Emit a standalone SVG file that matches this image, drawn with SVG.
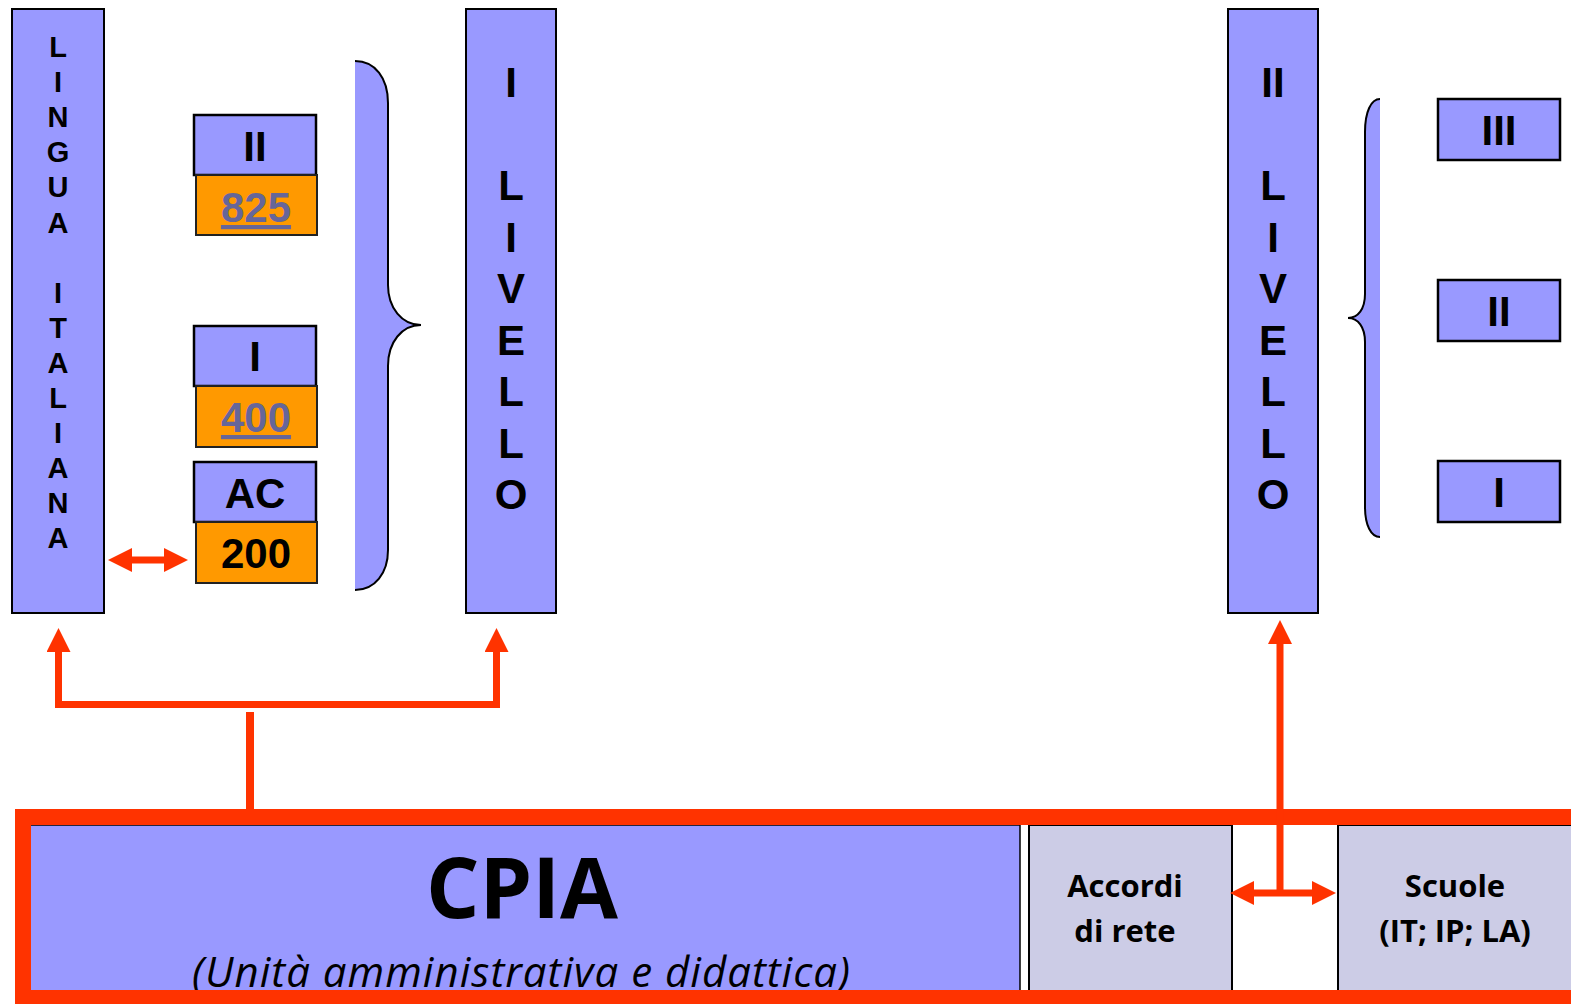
<svg xmlns="http://www.w3.org/2000/svg" width="1571" height="1004" viewBox="0 0 1571 1004">
  <style>
    .bar { fill: #9999FF; stroke: #000; stroke-width: 2; }
    .box { fill: #9999FF; stroke: #000; stroke-width: 2.5; }
    .hours { fill: #FF9900; stroke: #222; stroke-width: 2; }
    .cell { fill: #CCCCE6; stroke: #000; stroke-width: 2; }
    .lbl { font-family: "Liberation Sans", Arial, sans-serif; font-weight: bold; text-anchor: middle; fill: #000; }
    .big { font-size: 42px; }
    .small { font-size: 29px; }
    .link { fill: #666699; text-decoration: underline; }
    .cal { font-family: "Open Sans", "Noto Sans", sans-serif; text-anchor: middle; fill: #000; }
    .cellText { font-size: 31px; font-weight: bold; }
    .conn { stroke: #FF3300; fill: none; }
    .braceFill { fill: #9999FF; stroke: none; }
    .braceLine { fill: none; stroke: #000; stroke-width: 2; }
  </style>
  <defs>
    <marker id="head" viewBox="0 0 24 24" markerWidth="24" markerHeight="24" refX="0" refY="12" orient="auto-start-reverse" markerUnits="userSpaceOnUse">
      <path d="M0,0 L24,12 L0,24 Z" fill="#FF3300"/>
    </marker>
  </defs>

  <rect width="1571" height="1004" fill="#fff"/>

  <!-- Italian language column -->
  <g id="lingua-italiana">
    <rect class="bar" x="12" y="9" width="92" height="604"/>
    <text class="lbl small" x="58" y="57">
      <tspan x="58">L</tspan><tspan x="58" dy="35.1">I</tspan><tspan x="58" dy="35.1">N</tspan><tspan x="58" dy="35.1">G</tspan><tspan x="58" dy="35.1">U</tspan><tspan x="58" dy="35.1">A</tspan><tspan x="58" dy="70.2">I</tspan><tspan x="58" dy="35.1">T</tspan><tspan x="58" dy="35.1">A</tspan><tspan x="58" dy="35.1">L</tspan><tspan x="58" dy="35.1">I</tspan><tspan x="58" dy="35.1">A</tspan><tspan x="58" dy="35.1">N</tspan><tspan x="58" dy="35.1">A</tspan>
    </text>
  </g>

  <!-- First-level periods -->
  <g id="periodo-2">
    <rect class="box" x="194" y="115" width="122" height="60"/>
    <text class="lbl big" x="255" y="161">II</text>
  </g>
  <g id="ore-825">
    <rect class="hours" x="196" y="175" width="121" height="60"/>
    <text class="lbl big link" x="256" y="222">825</text>
  </g>
  <g id="periodo-1">
    <rect class="box" x="194" y="326" width="122" height="60"/>
    <text class="lbl big" x="255" y="371">I</text>
  </g>
  <g id="ore-400">
    <rect class="hours" x="196" y="386" width="121" height="61"/>
    <text class="lbl big link" x="256" y="432">400</text>
  </g>
  <g id="ac">
    <rect class="box" x="194" y="462" width="122" height="60"/>
    <text class="lbl big" x="255" y="508">AC</text>
  </g>
  <g id="ore-200">
    <rect class="hours" x="196" y="522" width="121" height="61"/>
    <text class="lbl big" x="256" y="568">200</text>
  </g>

  <!-- Brace grouping the first-level periods -->
  <g id="brace-1">
    <path class="braceFill" d="M355,61 C375,61 388,78 388,103 L388,285 C388,308 402,325 421,325 C402,325 388,342 388,366 L388,550 C388,573 375,590 355,590 Z"/>
    <path class="braceLine" d="M355,61 C375,61 388,78 388,103 L388,285 C388,308 402,325 421,325 C402,325 388,342 388,366 L388,550 C388,573 375,590 355,590"/>
  </g>

  <g id="primo-livello">
    <rect class="bar" x="466" y="9" width="90" height="604"/>
    <text class="lbl big" x="511" y="97">
      <tspan x="511">I</tspan><tspan x="511" dy="103">L</tspan><tspan x="511" dy="51.5">I</tspan><tspan x="511" dy="51.5">V</tspan><tspan x="511" dy="51.5">E</tspan><tspan x="511" dy="51.5">L</tspan><tspan x="511" dy="51.5">L</tspan><tspan x="511" dy="51.5">O</tspan>
    </text>
  </g>

  <g id="secondo-livello">
    <rect class="bar" x="1228" y="9" width="90" height="604"/>
    <text class="lbl big" x="1273" y="97">
      <tspan x="1273">II</tspan><tspan x="1273" dy="103">L</tspan><tspan x="1273" dy="51.5">I</tspan><tspan x="1273" dy="51.5">V</tspan><tspan x="1273" dy="51.5">E</tspan><tspan x="1273" dy="51.5">L</tspan><tspan x="1273" dy="51.5">L</tspan><tspan x="1273" dy="51.5">O</tspan>
    </text>
  </g>

  <!-- Brace grouping the second-level periods -->
  <g id="brace-2">
    <path class="braceFill" d="M1380,99 C1371,99 1365,112 1365,132 L1365,294 C1365,309 1358,318 1348,318 C1358,318 1365,327 1365,342 L1365,507 C1365,525 1371,537 1380,537 Z"/>
    <path class="braceLine" d="M1380,99 C1371,99 1365,112 1365,132 L1365,294 C1365,309 1358,318 1348,318 C1358,318 1365,327 1365,342 L1365,507 C1365,525 1371,537 1380,537"/>
  </g>

  <g id="periodo-3-b">
    <rect class="box" x="1438" y="99" width="122" height="61"/>
    <text class="lbl big" x="1499" y="145">III</text>
  </g>
  <g id="periodo-2-b">
    <rect class="box" x="1438" y="280" width="122" height="61"/>
    <text class="lbl big" x="1499" y="326">II</text>
  </g>
  <g id="periodo-1-b">
    <rect class="box" x="1438" y="461" width="122" height="61"/>
    <text class="lbl big" x="1499" y="507">I</text>
  </g>

  <!-- CPIA band -->
  <g id="cpia">
    <rect x="30" y="825" width="990" height="166" fill="#9999FF" stroke="#000" stroke-width="1.5"/>
    <text class="cal" x="522" y="918" font-size="84" font-weight="bold">CPIA</text>
    <text class="cal" x="521" y="987" font-size="42" font-style="italic" textLength="658" lengthAdjust="spacing">(Unità amministrativa e didattica)</text>
  </g>
  <g id="accordi">
    <rect class="cell" x="1029" y="825" width="203" height="166"/>
    <text class="cal cellText" x="1125" y="897">Accordi</text>
    <text class="cal cellText" x="1125" y="942">di rete</text>
  </g>
  <g id="scuole">
    <rect class="cell" x="1338" y="825" width="260" height="166"/>
    <text class="cal cellText" x="1455" y="897">Scuole</text>
    <text class="cal cellText" x="1455" y="942">(IT; IP; LA)</text>
  </g>
  <rect id="cpia-frame" x="23" y="817" width="1580" height="181" fill="none" stroke="#FF3300" stroke-width="16"/>

  <!-- Connectors -->
  <g id="connectors" class="conn">
    <line x1="250" y1="809" x2="250" y2="712" stroke-width="8"/>
    <line x1="55" y1="704.5" x2="500" y2="704.5" stroke-width="7"/>
    <line x1="58.5" y1="708" x2="58.5" y2="652" stroke-width="7" marker-end="url(#head)"/>
    <line x1="496.5" y1="708" x2="496.5" y2="652" stroke-width="7" marker-end="url(#head)"/>
    <line x1="132" y1="560" x2="164" y2="560" stroke-width="7" marker-start="url(#head)" marker-end="url(#head)"/>
    <line x1="1280" y1="893" x2="1280" y2="644" stroke-width="7" marker-end="url(#head)"/>
    <line x1="1254" y1="893" x2="1312" y2="893" stroke-width="7" marker-start="url(#head)" marker-end="url(#head)"/>
  </g>
</svg>
